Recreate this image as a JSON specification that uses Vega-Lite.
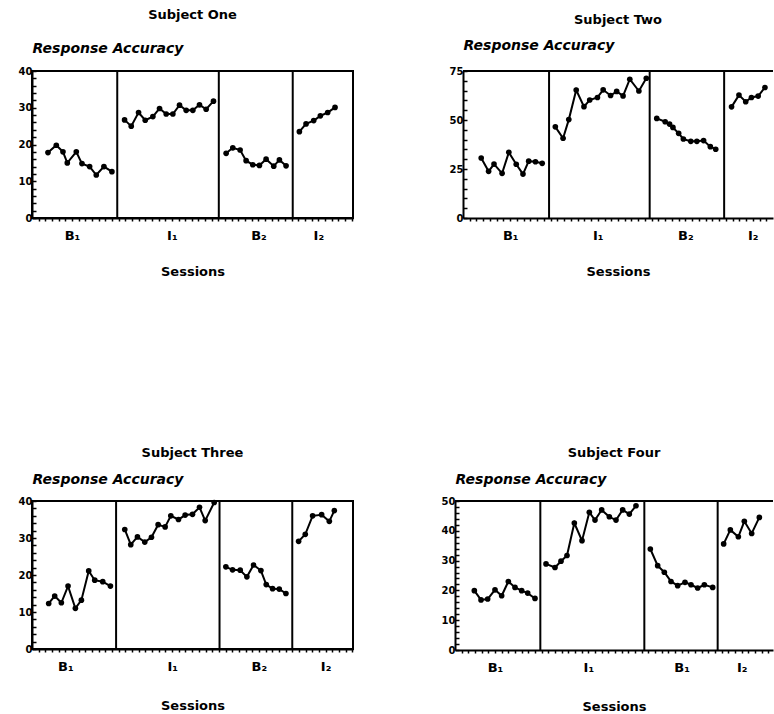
{
  "$schema": "https://vega.github.io/schema/vega-lite/v6.json",
  "background": "white",
  "padding": {"left": 17, "top": 8, "right": 0, "bottom": 0},
  "datasets": {
    "obs": [
      {"s":"One","ph":"B1","x":2.4,"y":17.8},{"s":"One","ph":"B1","x":3.65,"y":19.8},{"s":"One","ph":"B1","x":4.65,"y":18},{"s":"One","ph":"B1","x":5.3,"y":15},{"s":"One","ph":"B1","x":6.65,"y":18},{"s":"One","ph":"B1","x":7.5,"y":14.8},{"s":"One","ph":"B1","x":8.65,"y":14},{"s":"One","ph":"B1","x":9.65,"y":11.7},{"s":"One","ph":"B1","x":10.8,"y":14},{"s":"One","ph":"B1","x":12.0,"y":12.6},
      {"s":"One","ph":"I1","x":13.9,"y":26.7},{"s":"One","ph":"I1","x":14.9,"y":25},{"s":"One","ph":"I1","x":16.0,"y":28.7},{"s":"One","ph":"I1","x":17.0,"y":26.6},{"s":"One","ph":"I1","x":18.15,"y":27.6},{"s":"One","ph":"I1","x":19.15,"y":29.8},{"s":"One","ph":"I1","x":20.15,"y":28.3},{"s":"One","ph":"I1","x":21.15,"y":28.3},{"s":"One","ph":"I1","x":22.15,"y":30.7},{"s":"One","ph":"I1","x":23.15,"y":29.3},{"s":"One","ph":"I1","x":24.15,"y":29.3},{"s":"One","ph":"I1","x":25.15,"y":30.8},{"s":"One","ph":"I1","x":26.15,"y":29.6},{"s":"One","ph":"I1","x":27.25,"y":31.8},
      {"s":"One","ph":"B2","x":29.15,"y":17.6},{"s":"One","ph":"B2","x":30.15,"y":19.1},{"s":"One","ph":"B2","x":31.25,"y":18.5},{"s":"One","ph":"B2","x":32.15,"y":15.6},{"s":"One","ph":"B2","x":33.15,"y":14.5},{"s":"One","ph":"B2","x":34.15,"y":14.3},{"s":"One","ph":"B2","x":35.15,"y":16},{"s":"One","ph":"B2","x":36.3,"y":14.1},{"s":"One","ph":"B2","x":37.15,"y":15.8},{"s":"One","ph":"B2","x":38.15,"y":14.2},
      {"s":"One","ph":"I2","x":40.15,"y":23.5},{"s":"One","ph":"I2","x":41.15,"y":25.6},{"s":"One","ph":"I2","x":42.3,"y":26.5},{"s":"One","ph":"I2","x":43.3,"y":27.8},{"s":"One","ph":"I2","x":44.4,"y":28.7},{"s":"One","ph":"I2","x":45.5,"y":30.1},
      {"s":"Two","ph":"B1","x":2.7,"y":30.6},{"s":"Two","ph":"B1","x":3.8,"y":23.8},{"s":"Two","ph":"B1","x":4.6,"y":27.5},{"s":"Two","ph":"B1","x":5.8,"y":22.8},{"s":"Two","ph":"B1","x":6.8,"y":33.5},{"s":"Two","ph":"B1","x":7.9,"y":27.4},{"s":"Two","ph":"B1","x":8.9,"y":22.4},{"s":"Two","ph":"B1","x":9.75,"y":29},{"s":"Two","ph":"B1","x":10.75,"y":28.7},{"s":"Two","ph":"B1","x":11.75,"y":27.9},
      {"s":"Two","ph":"I1","x":13.7,"y":46.5},{"s":"Two","ph":"I1","x":14.85,"y":40.7},{"s":"Two","ph":"I1","x":15.7,"y":50.2},{"s":"Two","ph":"I1","x":16.8,"y":65.3},{"s":"Two","ph":"I1","x":17.95,"y":56.8},{"s":"Two","ph":"I1","x":18.8,"y":60.2},{"s":"Two","ph":"I1","x":19.95,"y":61.5},{"s":"Two","ph":"I1","x":20.8,"y":65.4},{"s":"Two","ph":"I1","x":21.9,"y":62.5},{"s":"Two","ph":"I1","x":22.8,"y":64.6},{"s":"Two","ph":"I1","x":23.75,"y":62.3},{"s":"Two","ph":"I1","x":24.75,"y":70.8},{"s":"Two","ph":"I1","x":26.1,"y":64.8},{"s":"Two","ph":"I1","x":27.2,"y":71.3},
      {"s":"Two","ph":"B2","x":28.75,"y":50.8},{"s":"Two","ph":"B2","x":30.0,"y":49.1},{"s":"Two","ph":"B2","x":30.65,"y":47.9},{"s":"Two","ph":"B2","x":31.15,"y":46.2},{"s":"Two","ph":"B2","x":32.0,"y":43.2},{"s":"Two","ph":"B2","x":32.7,"y":40.3},{"s":"Two","ph":"B2","x":33.8,"y":39.1},{"s":"Two","ph":"B2","x":34.7,"y":39.1},{"s":"Two","ph":"B2","x":35.7,"y":39.5},{"s":"Two","ph":"B2","x":36.7,"y":36.4},{"s":"Two","ph":"B2","x":37.5,"y":35.1},
      {"s":"Two","ph":"I2","x":39.85,"y":56.7},{"s":"Two","ph":"I2","x":40.95,"y":62.7},{"s":"Two","ph":"I2","x":41.95,"y":59.3},{"s":"Two","ph":"I2","x":42.8,"y":61.5},{"s":"Two","ph":"I2","x":43.8,"y":62.2},{"s":"Two","ph":"I2","x":44.8,"y":66.6},
      {"s":"Three","ph":"B1","x":2.5,"y":12.3},{"s":"Three","ph":"B1","x":3.4,"y":14.3},{"s":"Three","ph":"B1","x":4.4,"y":12.5},{"s":"Three","ph":"B1","x":5.4,"y":17.0},{"s":"Three","ph":"B1","x":6.5,"y":11.0},{"s":"Three","ph":"B1","x":7.4,"y":13.2},{"s":"Three","ph":"B1","x":8.5,"y":21.1},{"s":"Three","ph":"B1","x":9.4,"y":18.6},{"s":"Three","ph":"B1","x":10.6,"y":18.2},{"s":"Three","ph":"B1","x":11.75,"y":17.0},
      {"s":"Three","ph":"I1","x":13.9,"y":32.3},{"s":"Three","ph":"I1","x":14.8,"y":28.2},{"s":"Three","ph":"I1","x":15.8,"y":30.3},{"s":"Three","ph":"I1","x":16.9,"y":28.9},{"s":"Three","ph":"I1","x":17.9,"y":30.2},{"s":"Three","ph":"I1","x":18.9,"y":33.6},{"s":"Three","ph":"I1","x":19.95,"y":33.0},{"s":"Three","ph":"I1","x":20.8,"y":36.0},{"s":"Three","ph":"I1","x":21.95,"y":35.0},{"s":"Three","ph":"I1","x":22.95,"y":36.2},{"s":"Three","ph":"I1","x":24.05,"y":36.4},{"s":"Three","ph":"I1","x":25.1,"y":38.3},{"s":"Three","ph":"I1","x":25.95,"y":34.7},{"s":"Three","ph":"I1","x":27.3,"y":39.6},
      {"s":"Three","ph":"B2","x":29.05,"y":22.2},{"s":"Three","ph":"B2","x":30.05,"y":21.4},{"s":"Three","ph":"B2","x":31.2,"y":21.3},{"s":"Three","ph":"B2","x":32.2,"y":19.5},{"s":"Three","ph":"B2","x":33.2,"y":22.7},{"s":"Three","ph":"B2","x":34.3,"y":21.2},{"s":"Three","ph":"B2","x":35.1,"y":17.4},{"s":"Three","ph":"B2","x":36.05,"y":16.3},{"s":"Three","ph":"B2","x":37.05,"y":16.2},{"s":"Three","ph":"B2","x":38.05,"y":15.0},
      {"s":"Three","ph":"I2","x":39.95,"y":29.1},{"s":"Three","ph":"I2","x":40.95,"y":31.0},{"s":"Three","ph":"I2","x":42.05,"y":36.0},{"s":"Three","ph":"I2","x":43.4,"y":36.3},{"s":"Three","ph":"I2","x":44.55,"y":34.5},{"s":"Three","ph":"I2","x":45.3,"y":37.4},
      {"s":"Four","ph":"B1","x":2.9,"y":19.9},{"s":"Four","ph":"B1","x":3.9,"y":16.8},{"s":"Four","ph":"B1","x":4.9,"y":17.1},{"s":"Four","ph":"B1","x":6.0,"y":20.2},{"s":"Four","ph":"B1","x":7.0,"y":18.2},{"s":"Four","ph":"B1","x":8.0,"y":23.0},{"s":"Four","ph":"B1","x":9.0,"y":21.0},{"s":"Four","ph":"B1","x":10.0,"y":19.9},{"s":"Four","ph":"B1","x":10.9,"y":19.1},{"s":"Four","ph":"B1","x":12.0,"y":17.3},
      {"s":"Four","ph":"I1","x":13.65,"y":28.9},{"s":"Four","ph":"I1","x":15.0,"y":27.7},{"s":"Four","ph":"I1","x":15.9,"y":29.8},{"s":"Four","ph":"I1","x":16.8,"y":31.7},{"s":"Four","ph":"I1","x":17.9,"y":42.6},{"s":"Four","ph":"I1","x":19.05,"y":36.7},{"s":"Four","ph":"I1","x":20.15,"y":46.2},{"s":"Four","ph":"I1","x":21.0,"y":43.6},{"s":"Four","ph":"I1","x":22.0,"y":47.0},{"s":"Four","ph":"I1","x":23.15,"y":44.7},{"s":"Four","ph":"I1","x":24.15,"y":43.6},{"s":"Four","ph":"I1","x":25.15,"y":47.0},{"s":"Four","ph":"I1","x":26.15,"y":45.6},{"s":"Four","ph":"I1","x":27.15,"y":48.4},
      {"s":"Four","ph":"B2","x":29.3,"y":33.9},{"s":"Four","ph":"B2","x":30.4,"y":28.3},{"s":"Four","ph":"B2","x":31.4,"y":26.1},{"s":"Four","ph":"B2","x":32.4,"y":23.0},{"s":"Four","ph":"B2","x":33.4,"y":21.6},{"s":"Four","ph":"B2","x":34.5,"y":22.7},{"s":"Four","ph":"B2","x":35.4,"y":21.9},{"s":"Four","ph":"B2","x":36.4,"y":20.8},{"s":"Four","ph":"B2","x":37.4,"y":21.9},{"s":"Four","ph":"B2","x":38.65,"y":21.0},
      {"s":"Four","ph":"I2","x":40.3,"y":35.6},{"s":"Four","ph":"I2","x":41.3,"y":40.3},{"s":"Four","ph":"I2","x":42.5,"y":38.0},{"s":"Four","ph":"I2","x":43.4,"y":43.2},{"s":"Four","ph":"I2","x":44.5,"y":39.1},{"s":"Four","ph":"I2","x":45.65,"y":44.5}
    ],
    "bounds": [
      {"s":"One","x":12.8},{"s":"One","x":28.05},{"s":"One","x":39.15},
      {"s":"Two","x":12.77},{"s":"Two","x":27.7},{"s":"Two","x":38.75},
      {"s":"Three","x":12.6},{"s":"Three","x":28.1},{"s":"Three","x":39.0},
      {"s":"Four","x":12.8},{"s":"Four","x":28.4},{"s":"Four","x":39.4}
    ]
  },
  "vconcat": [
    {
      "spacing": 95,
      "hconcat": [
        {
          "width": 321, "height": 147,
          "title": {"text": "Subject One", "offset": 19},
          "layer": [
            {"data": {"name": "bounds"}, "transform": [{"filter": "datum.s == 'One'"}],
             "mark": {"type": "rule", "color": "black", "strokeWidth": 2},
             "encoding": {"x": {"field": "x", "type": "quantitative", "scale": {"domain": [0, 48.2], "nice": false, "zero": false},
               "axis": {"title": "Sessions", "tickCount": 200, "values": [1,2,3,4,5,6,7,8,9,10,11,12,13,14,15,16,17,18,19,20,21,22,23,24,25,26,27,28,29,30,31,32,33,34,35,36,37,38,39,40,41,42,43,44,45,46,47,48],
                 "labelExpr": "datum.value == 6 ? 'B₁' : datum.value == 21 ? 'I₁' : datum.value == 34 ? 'B₂' : datum.value == 43 ? 'I₂' : ''",
                 "labelOverlap": false, "labelFlush": false, "labelFontSize": 13, "labelPadding": 8, "tickSize": 3, "tickWidth": 1.5, "titleFontSize": 13, "titlePadding": 23}}}},
            {"data": {"name": "obs"}, "transform": [{"filter": "datum.s == 'One'"}],
             "mark": {"type": "line", "color": "black", "strokeWidth": 2},
             "encoding": {"x": {"field": "x", "type": "quantitative", "scale": {"domain": [0, 48.2], "nice": false, "zero": false}},
               "y": {"field": "y", "type": "quantitative", "scale": {"domain": [0, 40], "nice": false},
                 "axis": {"title": "Response Accuracy", "titleAngle": 0, "titleAlign": "left", "titleBaseline": "alphabetic", "titleX": 0, "titleY": -19, "titleFontStyle": "italic", "titleFontSize": 14, "tickCount": 200, "format": "d",
                   "values": [0,2,4,6,8,10,12,14,16,18,20,22,24,26,28,30,32,34,36,38,40], "labelExpr": "datum.value % 10 == 0 ? datum.label : ''",
                   "labelOverlap": false, "labelFlush": false, "tickSize": -4, "tickWidth": 1.5, "labelPadding": 4, "labelFontSize": 10}},
               "detail": {"field": "ph"}}},
            {"data": {"name": "obs"}, "transform": [{"filter": "datum.s == 'One'"}],
             "mark": {"type": "point", "filled": true, "color": "black", "opacity": 1, "size": 32},
             "encoding": {"x": {"field": "x", "type": "quantitative", "scale": {"domain": [0, 48.2], "nice": false, "zero": false}},
               "y": {"field": "y", "type": "quantitative", "scale": {"domain": [0, 40], "nice": false}}}}
          ]
        },
        {
          "width": 310, "height": 147,
          "view": {"stroke": null},
          "title": {"text": "Subject Two", "offset": 11},
          "layer": [
            {"data": {"name": "bounds"}, "transform": [{"filter": "datum.s == 'Two'"}],
             "mark": {"type": "rule", "color": "black", "strokeWidth": 2},
             "encoding": {"x": {"field": "x", "type": "quantitative", "scale": {"domain": [0, 46], "nice": false, "zero": false},
               "axis": {"title": "Sessions", "tickCount": 200, "values": [1,2,3,4,5,6,7,8,9,10,11,12,13,14,15,16,17,18,19,20,21,22,23,24,25,26,27,28,29,30,31,32,33,34,35,36,37,38,39,40,41,42,43,44,45],
                 "labelExpr": "datum.value == 7 ? 'B₁' : datum.value == 20 ? 'I₁' : datum.value == 33 ? 'B₂' : datum.value == 43 ? 'I₂' : ''",
                 "labelOverlap": false, "labelFlush": false, "labelFontSize": 13, "labelPadding": 8, "tickSize": 3, "tickWidth": 1.5, "titleFontSize": 13, "titlePadding": 23}}}},
            {"data": {"values": [{}]},
             "mark": {"type": "rule", "color": "black", "strokeWidth": 2},
             "encoding": {"y": {"datum": 75, "type": "quantitative", "scale": {"domain": [0, 75], "nice": false}}}},
            {"data": {"name": "obs"}, "transform": [{"filter": "datum.s == 'Two'"}],
             "mark": {"type": "line", "color": "black", "strokeWidth": 2},
             "encoding": {"x": {"field": "x", "type": "quantitative", "scale": {"domain": [0, 46], "nice": false, "zero": false}},
               "y": {"field": "y", "type": "quantitative", "scale": {"domain": [0, 75], "nice": false},
                 "axis": {"title": "Response Accuracy", "titleAngle": 0, "titleAlign": "left", "titleBaseline": "alphabetic", "titleX": 0, "titleY": -22, "titleFontStyle": "italic", "titleFontSize": 14, "tickCount": 200, "format": "d",
                   "values": [0,5,10,15,20,25,30,35,40,45,50,55,60,65,70,75], "labelExpr": "datum.value % 25 == 0 ? datum.label : ''",
                   "labelOverlap": false, "labelFlush": false, "tickSize": -4, "tickWidth": 1.5, "labelPadding": 4, "labelFontSize": 10}},
               "detail": {"field": "ph"}}},
            {"data": {"name": "obs"}, "transform": [{"filter": "datum.s == 'Two'"}],
             "mark": {"type": "point", "filled": true, "color": "black", "opacity": 1, "size": 32},
             "encoding": {"x": {"field": "x", "type": "quantitative", "scale": {"domain": [0, 46], "nice": false, "zero": false}},
               "y": {"field": "y", "type": "quantitative", "scale": {"domain": [0, 75], "nice": false}}}}
          ]
        }
      ]
    },
    {
      "spacing": 87,
      "hconcat": [
        {
          "width": 321, "height": 148,
          "title": {"text": "Subject Three", "offset": 12},
          "layer": [
            {"data": {"name": "bounds"}, "transform": [{"filter": "datum.s == 'Three'"}],
             "mark": {"type": "rule", "color": "black", "strokeWidth": 2},
             "encoding": {"x": {"field": "x", "type": "quantitative", "scale": {"domain": [0, 48.1], "nice": false, "zero": false},
               "axis": {"title": "Sessions", "tickCount": 200, "values": [1,2,3,4,5,6,7,8,9,10,11,12,13,14,15,16,17,18,19,20,21,22,23,24,25,26,27,28,29,30,31,32,33,34,35,36,37,38,39,40,41,42,43,44,45,46,47,48],
                 "labelExpr": "datum.value == 5 ? 'B₁' : datum.value == 21 ? 'I₁' : datum.value == 34 ? 'B₂' : datum.value == 44 ? 'I₂' : ''",
                 "labelOverlap": false, "labelFlush": false, "labelFontSize": 13, "labelPadding": 8, "tickSize": 3, "tickWidth": 1.5, "titleFontSize": 13, "titlePadding": 26}}}},
            {"data": {"name": "obs"}, "transform": [{"filter": "datum.s == 'Three'"}],
             "mark": {"type": "line", "color": "black", "strokeWidth": 2},
             "encoding": {"x": {"field": "x", "type": "quantitative", "scale": {"domain": [0, 48.1], "nice": false, "zero": false}},
               "y": {"field": "y", "type": "quantitative", "scale": {"domain": [0, 40], "nice": false},
                 "axis": {"title": "Response Accuracy", "titleAngle": 0, "titleAlign": "left", "titleBaseline": "alphabetic", "titleX": 0, "titleY": -18, "titleFontStyle": "italic", "titleFontSize": 14, "tickCount": 200, "format": "d",
                   "values": [0,2,4,6,8,10,12,14,16,18,20,22,24,26,28,30,32,34,36,38,40], "labelExpr": "datum.value % 10 == 0 ? datum.label : ''",
                   "labelOverlap": false, "labelFlush": false, "tickSize": -4, "tickWidth": 1.5, "labelPadding": 4, "labelFontSize": 10}},
               "detail": {"field": "ph"}}},
            {"data": {"name": "obs"}, "transform": [{"filter": "datum.s == 'Three'"}],
             "mark": {"type": "point", "filled": true, "color": "black", "opacity": 1, "size": 32},
             "encoding": {"x": {"field": "x", "type": "quantitative", "scale": {"domain": [0, 48.1], "nice": false, "zero": false}},
               "y": {"field": "y", "type": "quantitative", "scale": {"domain": [0, 40], "nice": false}}}}
          ]
        },
        {
          "width": 318, "height": 149,
          "view": {"stroke": null},
          "title": {"text": "Subject Four", "offset": 12},
          "layer": [
            {"data": {"name": "bounds"}, "transform": [{"filter": "datum.s == 'Four'"}],
             "mark": {"type": "rule", "color": "black", "strokeWidth": 2},
             "encoding": {"x": {"field": "x", "type": "quantitative", "scale": {"domain": [0, 47.7], "nice": false, "zero": false},
               "axis": {"title": "Sessions", "tickCount": 200, "values": [1,2,3,4,5,6,7,8,9,10,11,12,13,14,15,16,17,18,19,20,21,22,23,24,25,26,27,28,29,30,31,32,33,34,35,36,37,38,39,40,41,42,43,44,45,46,47],
                 "labelExpr": "datum.value == 6 ? 'B₁' : datum.value == 20 ? 'I₁' : datum.value == 34 ? 'B₁' : datum.value == 43 ? 'I₂' : ''",
                 "labelOverlap": false, "labelFlush": false, "labelFontSize": 13, "labelPadding": 8, "tickSize": 3, "tickWidth": 1.5, "titleFontSize": 13, "titlePadding": 26}}}},
            {"data": {"values": [{}]},
             "mark": {"type": "rule", "color": "black", "strokeWidth": 2},
             "encoding": {"y": {"datum": 50, "type": "quantitative", "scale": {"domain": [0, 50], "nice": false}}}},
            {"data": {"name": "obs"}, "transform": [{"filter": "datum.s == 'Four'"}],
             "mark": {"type": "line", "color": "black", "strokeWidth": 2},
             "encoding": {"x": {"field": "x", "type": "quantitative", "scale": {"domain": [0, 47.7], "nice": false, "zero": false}},
               "y": {"field": "y", "type": "quantitative", "scale": {"domain": [0, 50], "nice": false},
                 "axis": {"title": "Response Accuracy", "titleAngle": 0, "titleAlign": "left", "titleBaseline": "alphabetic", "titleX": 0, "titleY": -18, "titleFontStyle": "italic", "titleFontSize": 14, "tickCount": 200, "format": "d",
                   "values": [0,2,4,6,8,10,12,14,16,18,20,22,24,26,28,30,32,34,36,38,40,42,44,46,48,50], "labelExpr": "datum.value % 10 == 0 ? datum.label : ''",
                   "labelOverlap": false, "labelFlush": false, "tickSize": -4, "tickWidth": 1.5, "labelPadding": 4, "labelFontSize": 10}},
               "detail": {"field": "ph"}}},
            {"data": {"name": "obs"}, "transform": [{"filter": "datum.s == 'Four'"}],
             "mark": {"type": "point", "filled": true, "color": "black", "opacity": 1, "size": 32},
             "encoding": {"x": {"field": "x", "type": "quantitative", "scale": {"domain": [0, 47.7], "nice": false, "zero": false}},
               "y": {"field": "y", "type": "quantitative", "scale": {"domain": [0, 50], "nice": false}}}}
          ]
        }
      ]
    }
  ],
  "spacing": 167,
  "config": {
    "view": {"stroke": "black", "strokeWidth": 2},
    "axis": {"domainColor": "black", "domainWidth": 2, "tickColor": "black", "labelColor": "black", "titleColor": "black", "labelFont": "DejaVu Sans", "titleFont": "DejaVu Sans", "labelFontWeight": "bold", "titleFontWeight": "bold", "grid": false},
    "title": {"font": "DejaVu Sans", "fontWeight": "bold", "fontSize": 13, "color": "black", "frame": "group", "anchor": "middle"}
  }
}
